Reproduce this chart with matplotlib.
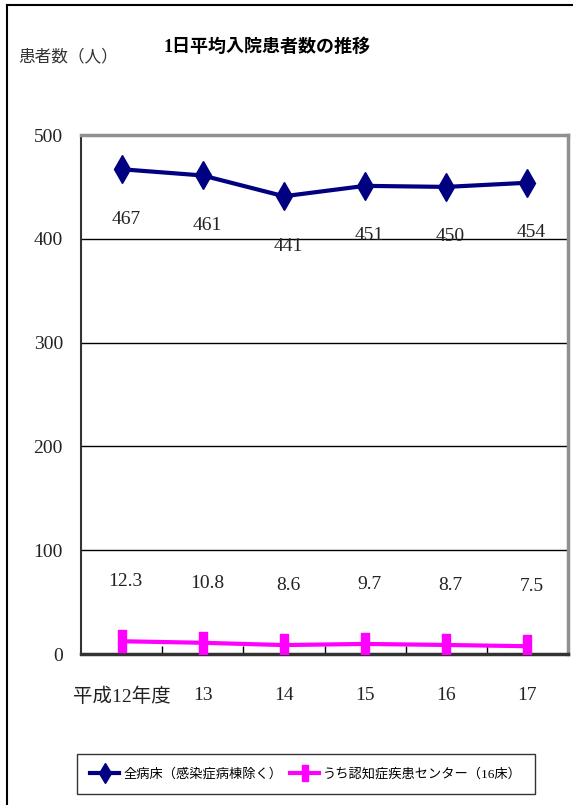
import matplotlib
matplotlib.use('Agg')
import matplotlib.pyplot as plt
from matplotlib.lines import Line2D

plt.rcParams['font.family'] = ['Liberation Serif', 'Noto Sans CJK JP']

# data
years = ['平成12年度', '13', '14', '15', '16', '17']
all_beds = [467, 461, 441, 451, 450, 454]
dementia = [12.3, 10.8, 8.6, 9.7, 8.7, 7.5]
all_labels = ['467', '461', '441', '451', '450', '454']
dementia_labels = ['12.3', '10.8', '8.6', '9.7', '8.7', '7.5']
series_names = ['全病床（感染症病棟除く）', 'うち認知症疾患センター（16床）']

fig = plt.figure(figsize=(5.73, 8.05), dpi=100)
ax = fig.add_axes([81 / 573, 151 / 805, 487 / 573, 519 / 805])

x = [i + 0.5 for i in range(len(years))]

# tall narrow rectangle marker for the pink series
rect = [(-0.2, -0.5), (0.2, -0.5), (0.2, 0.5), (-0.2, 0.5), (-0.2, -0.5)]

ax.plot(x, all_beds, color='#000080', lw=3, marker='d', ms=14,
        label=series_names[0], zorder=3)
ax.plot(x, dementia, color='#FF00FF', lw=3, marker=rect, ms=16,
        label=series_names[1], zorder=3)

for xi, yi, s in zip(x, all_beds, all_labels):
    ax.annotate(s, (xi, yi), xytext=(3, -36), textcoords='offset points',
                ha='center', va='center', fontsize=14, color='#222222')
for xi, yi, s in zip(x, dementia, dementia_labels):
    ax.annotate(s, (xi, yi), xytext=(3, 43), textcoords='offset points',
                ha='center', va='center', fontsize=14, color='#222222')

ax.set_xlim(0, 6)
ax.set_ylim(0, 500)
ax.set_yticks([0, 100, 200, 300, 400, 500])
ax.tick_params(axis='y', length=0, pad=13, labelsize=14, labelcolor='#222222')
ax.yaxis.grid(True, color='black', lw=1)
ax.set_axisbelow(True)

ax.set_xticks([1, 2, 3, 4, 5])
ax.set_xticklabels([])
ax.tick_params(axis='x', which='major', direction='in', length=6, width=1,
               color='black')
ax.set_xticks(x, minor=True)
ax.set_xticklabels(years, minor=True)
ax.tick_params(axis='x', which='minor', length=0, pad=24, labelsize=14,
               labelcolor='#222222')

for side in ['top', 'right']:
    ax.spines[side].set_color('#909090')
    ax.spines[side].set_linewidth(2.5)
ax.spines['left'].set_color('#333333')
ax.spines['left'].set_linewidth(1.5)
ax.spines['bottom'].set_color('#333333')
ax.spines['bottom'].set_linewidth(2.5)

fig.text(267 / 573, 1 - 47 / 805, '1日平均入院患者数の推移', ha='center', va='center',
         fontsize=13, fontweight='bold')
fig.text(68 / 573, 1 - 57 / 805, '患者数（人）', ha='center', va='center',
         fontsize=12, color='#333333')

leg = fig.legend(loc='center', bbox_to_anchor=(306 / 573, 1 - 774 / 805),
                 ncol=2, frameon=True, fancybox=False, edgecolor='black',
                 fontsize=9.5, handlelength=2.2, columnspacing=0.6,
                 handletextpad=0.3, borderpad=1.0, borderaxespad=0,
                 markerscale=0.75)
leg.get_frame().set_linewidth(1)

# outer frame lines (left and top)
fig.add_artist(Line2D([7 / 573, 7 / 573], [0, 1 - 5 / 805], color='black', lw=1.5))
fig.add_artist(Line2D([7 / 573, 1], [1 - 5 / 805, 1 - 5 / 805], color='black', lw=1.5))

fig.savefig('out.png', dpi=100)
